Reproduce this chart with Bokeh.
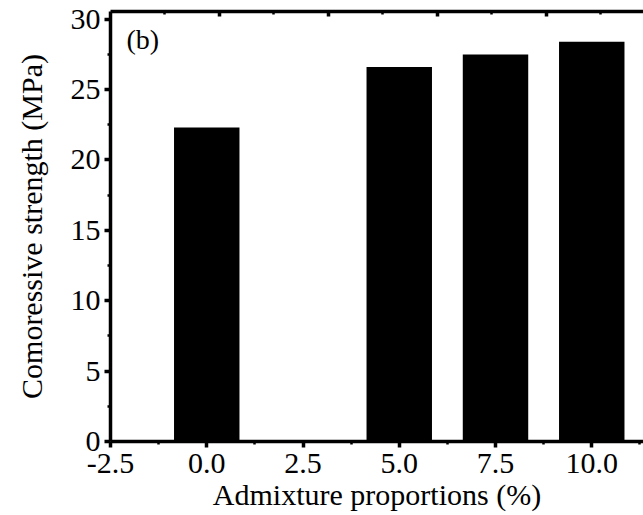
from bokeh.plotting import figure
from bokeh.models import (FixedTicker, NumeralTickFormatter, LinearAxis, Range1d, Label, ColumnDataSource)
from bokeh.embed import file_html
from bokeh.resources import INLINE

# Data
proportions = [0.0, 5.0, 7.5, 10.0]
strength = [22.3, 26.6, 27.5, 28.4]
x_ticks = [-2.5, 0.0, 2.5, 5.0, 7.5, 10.0]
y_ticks = [0, 5, 10, 15, 20, 25, 30]
x_label = "Admixture proportions (%)"
y_label = "Comoressive strength (MPa)"
panel_tag = "(b)"

FONT = "'Liberation Serif', 'Times New Roman', Times, serif"

p = figure(width=643, height=515, output_backend="svg", toolbar_location=None,
           x_range=Range1d(-2.5, 11.344), y_range=Range1d(0, 30.55),
           min_border_left=110, min_border_right=0, min_border_top=11, min_border_bottom=74)
p.outline_line_color = None
p.xgrid.visible = False
p.ygrid.visible = False
p.background_fill_color = "white"
p.border_fill_color = "white"

src = ColumnDataSource(dict(x=proportions, top=strength))
p.vbar(x="x", top="top", width=1.7, bottom=0, source=src, fill_color="black", line_color=None)

def style_axis(ax):
    ax.axis_line_width = 3.5
    ax.axis_line_color = "black"
    ax.major_tick_line_width = 3.5
    ax.minor_tick_line_width = 2.5
    ax.major_tick_line_color = "black"
    ax.minor_tick_line_color = "black"
    ax.major_label_text_font = FONT
    ax.major_label_text_font_size = "30px"
    ax.major_label_text_color = "black"
    ax.axis_label_text_font = FONT
    ax.axis_label_text_font_size = "30px"
    ax.axis_label_text_font_style = "normal"
    ax.axis_label_text_color = "black"

xa = p.xaxis[0]
style_axis(xa)
xa.ticker = FixedTicker(ticks=x_ticks, minor_ticks=[t + 1.25 for t in x_ticks])
xa.formatter = NumeralTickFormatter(format="0.0")
xa.major_tick_out = 6
xa.major_tick_in = 0
xa.minor_tick_out = 3
xa.minor_tick_in = 0
xa.major_label_standoff = 6
xa.axis_label = x_label
xa.axis_label_standoff = 2

ya = p.yaxis[0]
style_axis(ya)
ya.ticker = FixedTicker(ticks=y_ticks, minor_ticks=[t + 2.5 for t in y_ticks[:-1]])
ya.major_tick_out = 6
ya.major_tick_in = 0
ya.minor_tick_out = 3
ya.minor_tick_in = 0
ya.major_label_standoff = 4
ya.axis_label = y_label
ya.axis_label_standoff = 20

p.extra_x_ranges = {"top": Range1d(0, 4.89)}
top_ax = LinearAxis(x_range_name="top")
style_axis(top_ax)
top_ax.ticker = FixedTicker(ticks=[1, 2, 3, 4], minor_ticks=[0.5, 1.5, 2.5, 3.5, 4.5])
top_ax.major_tick_in = 5
top_ax.major_tick_out = 0
top_ax.minor_tick_in = 3
top_ax.minor_tick_out = 0
top_ax.major_label_text_font_size = "0px"
top_ax.major_label_standoff = 0
top_ax.major_label_text_color = None
p.add_layout(top_ax, "above")

p.add_layout(Label(x=-2.084, y=28.57, text=panel_tag, text_font=FONT, text_font_size="28px",
                   text_baseline="middle", text_align="left", text_color="black"))

open("out.html", "w").write(file_html(p, INLINE))
